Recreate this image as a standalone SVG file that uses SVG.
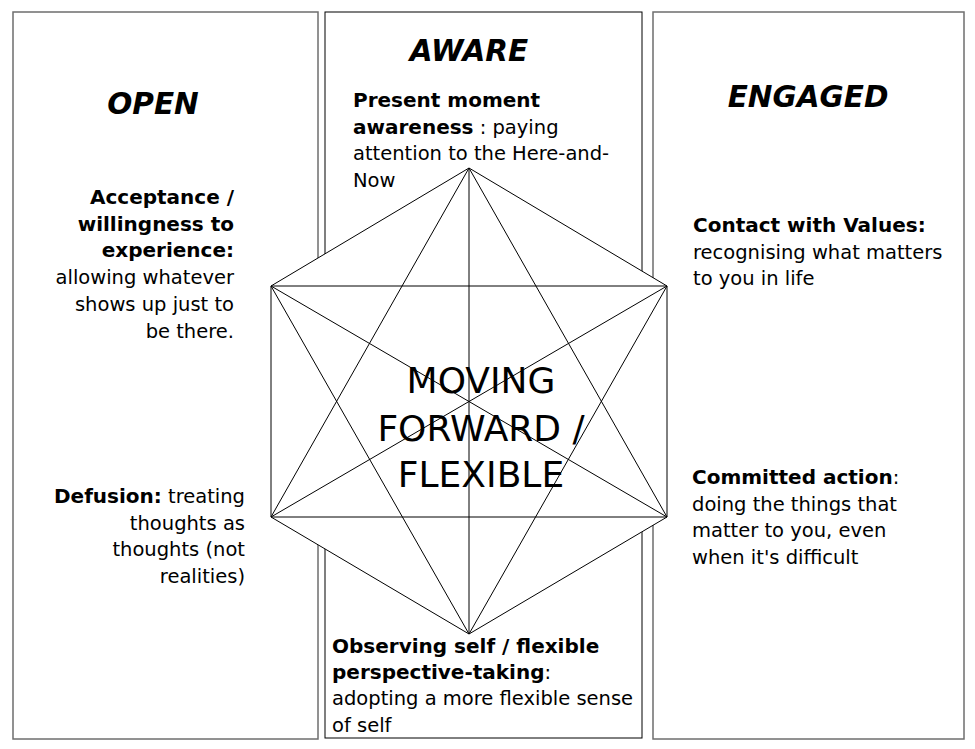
<svg xmlns="http://www.w3.org/2000/svg" width="975" height="749" viewBox="0 0 975 749">
<style>
.panel{fill:#fff;stroke:#000;stroke-width:1}
.side{stroke:#6e6e6e;stroke-width:1.5}
.t{font-family:"DejaVu Sans",Verdana,sans-serif;font-size:19.5px;fill:#000}
.r{text-anchor:end}
.b{font-weight:bold;font-size:20px}
.h{font-family:"DejaVu Sans",Verdana,sans-serif;font-size:29.5px;font-weight:bold;font-style:italic;text-anchor:middle;fill:#000}
.c{font-family:"DejaVu Sans",Verdana,sans-serif;font-size:36px;text-anchor:middle;fill:#000}
.ln{stroke:#000;stroke-width:1;fill:none}
</style>
<rect width="975" height="749" fill="#fff"/>
<g id="open-panel">
<rect class="panel side" x="13" y="12" width="305" height="727"/>
<text class="h" x="153" y="114">OPEN</text>
<text class="t r b" x="234" y="204">Acceptance /</text>
<text class="t r b" x="234" y="231">willingness to</text>
<text class="t r b" x="234" y="257">experience:</text>
<text class="t r" x="234" y="284">allowing whatever</text>
<text class="t r" x="234" y="311">shows up just to</text>
<text class="t r" x="234" y="338">be there.</text>
<text class="t r" x="245" y="503"><tspan class="b">Defusion:</tspan> treating</text>
<text class="t r" x="245" y="530">thoughts as</text>
<text class="t r" x="245" y="556">thoughts (not</text>
<text class="t r" x="245" y="583">realities)</text>
</g>
<g id="aware-panel">
<rect class="panel" x="325" y="12" width="317" height="726"/>
<text class="h" x="469" y="61">AWARE</text>
</g>
<g id="engaged-panel">
<rect class="panel side" x="653" y="12" width="311" height="727"/>
<text class="h" x="808" y="107">ENGAGED</text>
<text class="t b" x="693" y="232">Contact with Values:</text>
<text class="t" x="693" y="259">recognising what matters</text>
<text class="t" x="693" y="285">to you in life</text>
<text class="t" x="692" y="484"><tspan class="b">Committed action</tspan>:</text>
<text class="t" x="692" y="511">doing the things that</text>
<text class="t" x="692" y="537">matter to you, even</text>
<text class="t" x="692" y="564">when it's difficult</text>
</g>
<g id="hexagon">
<polygon points="469,168 667,286 667,517 469,634 271,517 271,286" fill="#fff" stroke="#000" stroke-width="1"/>
</g>
<g id="connectors">
<path class="ln" d="M469,168L271,517M469,168L667,517M469,168L469,634M271,286L667,286M271,517L667,517M271,286L469,634M667,286L469,634M271,286L667,517M667,286L271,517"/>
</g>
<g id="center-label">
<text class="c" x="481" y="393">MOVING</text>
<text class="c" x="481" y="441">FORWARD /</text>
<text class="c" x="481" y="487">FLEXIBLE</text>
</g>
<g id="present-moment">
<text class="t b" x="353" y="107">Present moment</text>
<text class="t" x="353" y="134"><tspan class="b">awareness</tspan> : paying</text>
<text class="t" x="353" y="160">attention to the Here-and-</text>
<text class="t" x="353" y="187">Now</text>
</g>
<g id="observing-self">
<text class="t b" x="332" y="653">Observing self / flexible</text>
<text class="t" x="332" y="679"><tspan class="b">perspective-taking</tspan>:</text>
<text class="t" x="332" y="705">adopting a more flexible sense</text>
<text class="t" x="332" y="732">of self</text>
</g>
</svg>
